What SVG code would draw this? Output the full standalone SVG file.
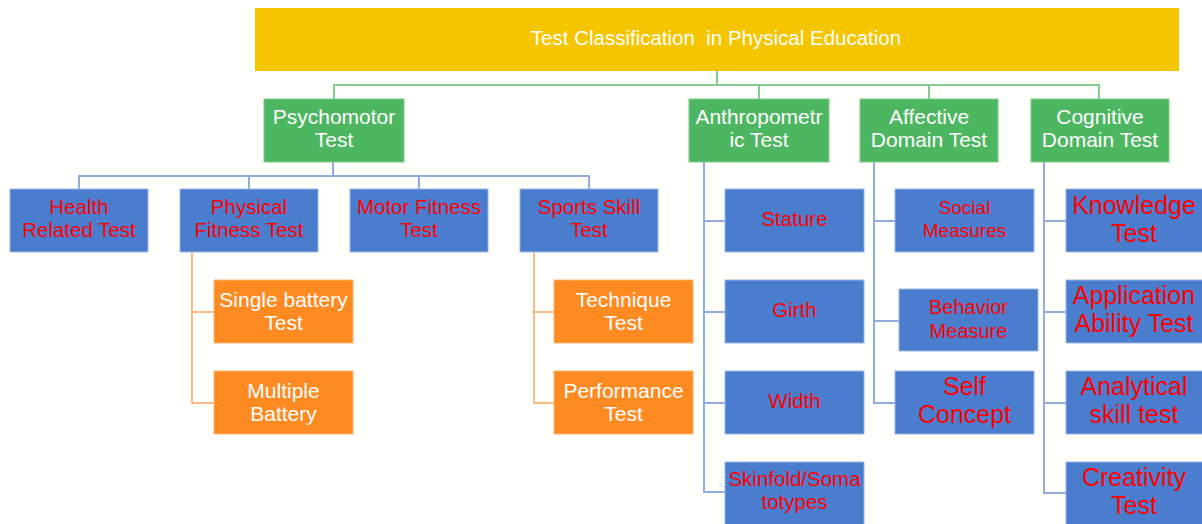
<svg xmlns="http://www.w3.org/2000/svg" width="1202" height="524" viewBox="0 0 1202 524">
<style>
text{font-family:"Liberation Sans",Arial,sans-serif;text-anchor:middle}
.title{fill:#FFFFFF;font-size:20.5px}
.g rect{fill:#4DB660;stroke:#7FCB8C;stroke-width:1}
.g text{fill:#FFFFFF;font-size:21px}
.b rect{fill:#4A7DCE;stroke:#9DB6E2;stroke-width:1}
.b text{fill:#FF0000;font-size:20.5px}
.b text.lg{font-size:25px}
.o rect{fill:#FE8A22;stroke:#FDB377;stroke-width:1}
.o text{fill:#FFFFFF;font-size:21px}
.cg{fill:none;stroke:#86CB92;stroke-width:2}
.cb{fill:none;stroke:#92ACDD;stroke-width:2}
.co{fill:none;stroke:#F9A65E;stroke-width:1.5}
</style>
<rect x="0" y="0" width="1202" height="524" fill="#FEFEFA"/>
<g id="connectors">
<path class="cg" d="M717 71V85M334 99V85H1099V99M759 85V99M929 85V99"/>
<path class="cb" d="M333 162V176M79 189V176H589V189M249 176V189M419 176V189"/>
<path class="cb" d="M704 162V492H725M704 221H725M704 312H725M704 403H725"/>
<path class="cb" d="M874 162V403H895M874 221H895M874 321H899"/>
<path class="cb" d="M1044 162V493H1066M1044 221H1066M1044 312H1066M1044 403H1066"/>
<path class="co" d="M192 252V403H214M192 312H214"/>
<path class="co" d="M534 252V403H554M534 312H554"/>
</g>
<g id="n-root">
<rect x="255" y="8" width="924" height="63" fill="#F5C500"/>
<text class="title" x="716" y="45" xml:space="preserve">Test Classification  in Physical Education</text>
</g>
<g id="n-psychomotor" class="g"><rect x="264" y="99" width="140" height="63"/><text x="334" y="124">Psychomotor</text><text x="334" y="147">Test</text></g>
<g id="n-anthropometric" class="g"><rect x="689" y="99" width="140" height="63"/><text x="759" y="124">Anthropometr</text><text x="759" y="147">ic Test</text></g>
<g id="n-affective" class="g"><rect x="860" y="99" width="138" height="63"/><text x="929" y="124">Affective</text><text x="929" y="147">Domain Test</text></g>
<g id="n-cognitive" class="g"><rect x="1031" y="99" width="138" height="63"/><text x="1100" y="124">Cognitive</text><text x="1100" y="147">Domain Test</text></g>

<g id="n-health" class="b"><rect x="10" y="189" width="138" height="63"/><text x="79" y="214">Health</text><text x="79" y="237">Related Test</text></g>
<g id="n-physical" class="b"><rect x="180" y="189" width="138" height="63"/><text x="249" y="214">Physical</text><text x="249" y="237">Fitness Test</text></g>
<g id="n-motor" class="b"><rect x="350" y="189" width="138" height="63"/><text x="419" y="214">Motor Fitness</text><text x="419" y="237">Test</text></g>
<g id="n-sports" class="b"><rect x="520" y="189" width="138" height="63"/><text x="589" y="214">Sports Skill</text><text x="589" y="237">Test</text></g>

<g id="n-single" class="o"><rect x="214" y="280" width="139" height="63"/><text x="283.5" y="307">Single battery</text><text x="283.5" y="330">Test</text></g>
<g id="n-multiple" class="o"><rect x="214" y="371" width="139" height="63"/><text x="283.5" y="398">Multiple</text><text x="283.5" y="421">Battery</text></g>
<g id="n-technique" class="o"><rect x="554" y="280" width="139" height="63"/><text x="623.5" y="307">Technique</text><text x="623.5" y="330">Test</text></g>
<g id="n-performance" class="o"><rect x="554" y="371" width="139" height="63"/><text x="623.5" y="398">Performance</text><text x="623.5" y="421">Test</text></g>

<g id="n-stature" class="b"><rect x="725" y="189" width="139" height="63"/><text x="794.5" y="226">Stature</text></g>
<g id="n-girth" class="b"><rect x="725" y="280" width="139" height="63"/><text x="794.5" y="317">Girth</text></g>
<g id="n-width" class="b"><rect x="725" y="371" width="139" height="63"/><text x="794.5" y="408">Width</text></g>
<g id="n-skinfold" class="b"><rect x="725" y="462" width="139" height="63"/><text x="794.5" y="486">Skinfold/Soma</text><text x="794.5" y="509">totypes</text></g>

<g id="n-social" class="b"><rect x="895" y="189" width="139" height="63"/><text x="964.5" y="214" style="font-size:19px">Social</text><text x="964.5" y="237" style="font-size:19px">Measures</text></g>
<g id="n-behavior" class="b"><rect x="899" y="289" width="139" height="62"/><text x="968.5" y="314" style="font-size:20px">Behavior</text><text x="968.5" y="338" style="font-size:20px">Measure</text></g>
<g id="n-self" class="b"><rect x="895" y="371" width="139" height="63"/><text class="lg" x="964.5" y="395">Self</text><text class="lg" x="964.5" y="423">Concept</text></g>

<g id="n-knowledge" class="b"><rect x="1066" y="189" width="138" height="63"/><text class="lg" x="1134" y="214">Knowledge</text><text class="lg" x="1134" y="242">Test</text></g>
<g id="n-application" class="b"><rect x="1066" y="280" width="138" height="63"/><text class="lg" x="1134" y="304">Application</text><text class="lg" x="1134" y="332">Ability Test</text></g>
<g id="n-analytical" class="b"><rect x="1066" y="371" width="138" height="63"/><text class="lg" x="1134" y="395">Analytical</text><text class="lg" x="1134" y="423">skill test</text></g>
<g id="n-creativity" class="b"><rect x="1066" y="462" width="138" height="63"/><text class="lg" x="1134" y="486">Creativity</text><text class="lg" x="1134" y="514">Test</text></g>
</svg>
